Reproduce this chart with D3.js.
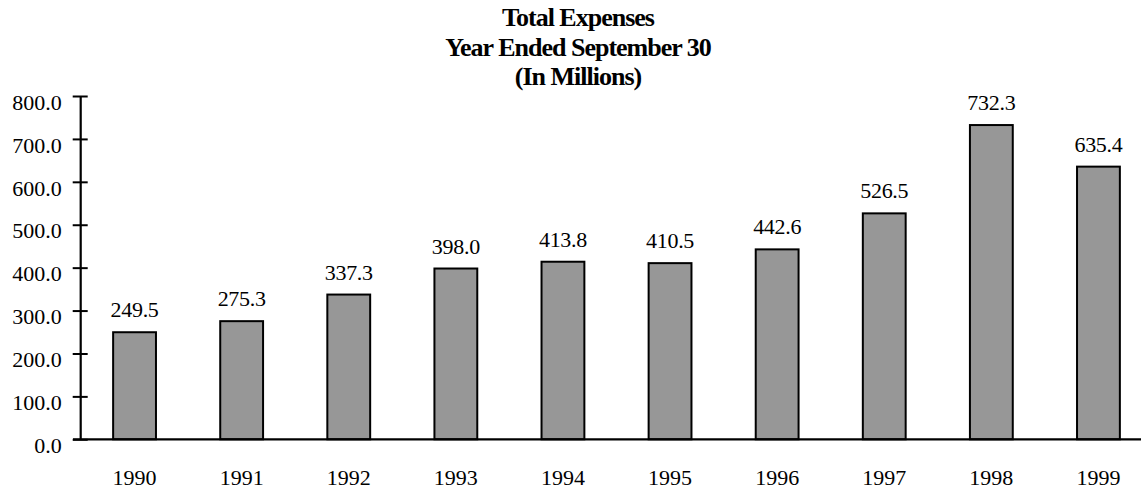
<!DOCTYPE html>
<html>
<head>
<meta charset="utf-8">
<script src="https://cdn.jsdelivr.net/npm/d3@7"></script>
<style>
	body { margin: 0; background: #fff; }
	#chart { width: 1141px; height: 489px; }
	text { font-family: "Liberation Serif", "Times New Roman", serif; fill: #000; }
</style>
</head>
<body>
<div id="chart"></div>
<script>
	'use strict';

	// DATA
	const years = ["1990", "1991", "1992", "1993", "1994", "1995", "1996", "1997", "1998", "1999"];
	const expenses = [249.5, 275.3, 337.3, 398.0, 413.8, 410.5, 442.6, 526.5, 732.3, 635.4];
	const yTicks = [0, 100, 200, 300, 400, 500, 600, 700, 800];
	const titleLines = ["Total Expenses", "Year Ended September 30", "(In Millions)"];

	const data = years.map((y, i) => ({ year: y, value: expenses[i] }));

	const width = 1141;
	const height = 489;
	const svg = d3.select("#chart").append("svg")
		.attr("width", width)
		.attr("height", height);

	// scales
	const xScale = d3.scaleBand()
		.domain(years)
		.range([81, 1152])
		.paddingInner(0.6)
		.paddingOuter(0.3);

	const yScale = d3.scaleLinear()
		.domain([0, 800])
		.range([439.3, 96]);

	// title
	svg.append("g").selectAll("text").data(titleLines)
		.enter().append("text")
		.attr("x", 578)
		.attr("y", (d, i) => 26 + i * 29.5)
		.attr("text-anchor", "middle")
		.attr("font-size", "26px")
		.attr("font-weight", "bold")
		.attr("letter-spacing", "-1px")
		.text(d => d);

	// Y axis
	const yAxis = d3.axisLeft(yScale)
		.tickValues(yTicks)
		.tickFormat(d3.format(".1f"))
		.tickSize(0)
		.tickPadding(19);
	const yAxisG = svg.append("g")
		.attr("transform", "translate(80.7,0)")
		.call(yAxis);
	yAxisG.select(".domain").remove();
	yAxisG.selectAll(".tick text")
		.attr("font-size", "22px")
		.attr("font-family", "Liberation Serif, serif")
		.attr("dy", "0.6em");
	// tick marks crossing the axis
	yAxisG.selectAll(".tick").append("line")
		.attr("x1", -8).attr("x2", 7)
		.attr("stroke", "#000").attr("stroke-width", 2);
	yAxisG.append("line")
		.attr("x1", 0).attr("x2", 0)
		.attr("y1", yScale(800)).attr("y2", yScale(0))
		.attr("stroke", "#000").attr("stroke-width", 2.2);

	// bars
	svg.append("g").selectAll("rect").data(data)
		.enter().append("rect")
		.attr("x", d => xScale(d.year))
		.attr("y", d => yScale(d.value))
		.attr("width", xScale.bandwidth())
		.attr("height", d => yScale(0) - yScale(d.value))
		.attr("fill", "#979797")
		.attr("stroke", "#000")
		.attr("stroke-width", 2);

	// value labels
	svg.append("g").selectAll("text").data(data)
		.enter().append("text")
		.attr("x", d => xScale(d.year) + xScale.bandwidth() / 2)
		.attr("y", d => yScale(d.value) - 15)
		.attr("text-anchor", "middle")
		.attr("font-size", "22px")
		.attr("letter-spacing", "-0.3px")
		.text(d => d.value.toFixed(1));

	// X axis (baseline + year labels)
	const xAxis = d3.axisBottom(xScale).tickSize(0).tickPadding(30);
	const xAxisG = svg.append("g")
		.attr("transform", `translate(0,${yScale(0)})`)
		.call(xAxis);
	xAxisG.select(".domain").remove();
	xAxisG.selectAll(".tick text")
		.attr("font-size", "22px")
		.attr("font-family", "Liberation Serif, serif");
	xAxisG.append("line")
		.attr("x1", 73).attr("x2", width)
		.attr("y1", 0).attr("y2", 0)
		.attr("stroke", "#000").attr("stroke-width", 2.2);
</script>
</body>
</html>
